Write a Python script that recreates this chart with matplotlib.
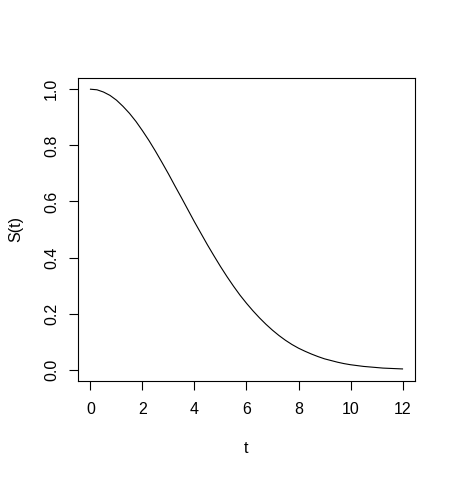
import numpy as np
import matplotlib
matplotlib.use("Agg")
import matplotlib.pyplot as plt

# survival curve values (t every 0.25)
t = [0.0, 0.25, 0.5, 0.75, 1.0, 1.25, 1.5, 1.75, 2.0, 2.25, 2.5, 2.75,
     3.0, 3.25, 3.5, 3.75, 4.0, 4.25, 4.5, 4.75, 5.0, 5.25, 5.5, 5.75,
     6.0, 6.25, 6.5, 6.75, 7.0, 7.25, 7.5, 7.75, 8.0, 8.25, 8.5, 8.75,
     9.0, 9.25, 9.5, 9.75, 10.0, 10.25, 10.5, 10.75, 11.0, 11.25, 11.5,
     11.75, 12.0]
s = [1.000, 0.998, 0.990, 0.978, 0.961, 0.939, 0.914, 0.885, 0.852,
     0.817, 0.779, 0.739, 0.698, 0.655, 0.613, 0.570, 0.527, 0.486,
     0.445, 0.406, 0.368, 0.332, 0.298, 0.266, 0.237, 0.210, 0.185,
     0.162, 0.141, 0.122, 0.105, 0.090, 0.077, 0.066, 0.056, 0.047,
     0.039, 0.033, 0.027, 0.022, 0.018, 0.015, 0.012, 0.010, 0.008,
     0.006, 0.005, 0.004, 0.003]
xticks = [0, 2, 4, 6, 8, 10, 12]
yticks = [0.0, 0.2, 0.4, 0.6, 0.8, 1.0]
ytick_labels = ["0.0", "0.2", "0.4", "0.6", "0.8", "1.0"]

plt.rcParams['font.family'] = ['Liberation Sans', 'DejaVu Sans']
plt.rcParams['font.size'] = 11.5

W, H = 456, 479
fig = plt.figure(figsize=(W / 100, H / 100), dpi=100)
ax = fig.add_axes([78 / W, (H - 381) / H, 337 / W, 303 / H])

ax.plot(t, s, color='black', linewidth=0.8)
ax.set_xlim(-0.48, 12.48)
ax.set_ylim(-0.04, 1.04)

ax.set_xticks(xticks)
ax.set_xticklabels([str(v) for v in xticks])
ax.set_yticks(yticks)
ax.set_yticklabels(ytick_labels, rotation=90, va='center')
ax.tick_params(direction='out', length=6.5, width=0.8, pad=8.5)
ax.tick_params(axis='y', pad=7)

for sp in ax.spines.values():
    sp.set_linewidth(0.8)

ax.set_xlabel('t', labelpad=17.5)
ax.set_ylabel('S(t)', labelpad=15)

fig.savefig('out.png', dpi=100)
